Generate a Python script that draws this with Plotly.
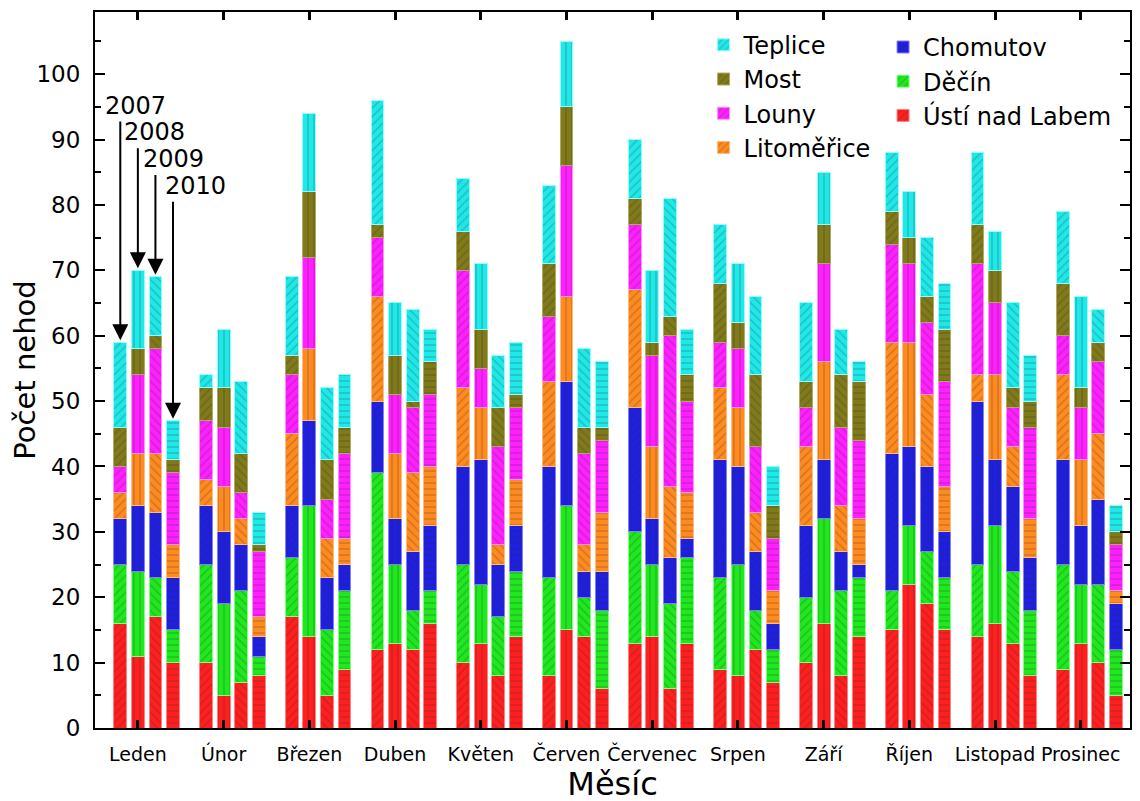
import plotly.graph_objects as go

months = ["Leden", "Únor", "Březen", "Duben", "Květen", "Červen", "Červenec",
          "Srpen", "Září", "Říjen", "Listopad", "Prosinec"]
years = ["2007", "2008", "2009", "2010"]

# values per month: [2007, 2008, 2009, 2010]
usti = [[16, 11, 17, 10], [10, 5, 7, 8], [17, 14, 5, 9], [12, 13, 12, 16],
        [10, 13, 8, 14], [8, 15, 14, 6], [13, 14, 6, 13], [9, 8, 12, 7],
        [10, 16, 8, 14], [15, 22, 19, 15], [14, 16, 13, 8], [9, 13, 10, 5]]
decin = [[9, 13, 6, 5], [15, 14, 14, 3], [9, 20, 10, 12], [27, 12, 6, 5],
         [15, 9, 9, 10], [15, 19, 6, 12], [17, 11, 13, 13], [14, 17, 6, 5],
         [10, 16, 13, 9], [6, 9, 8, 8], [11, 15, 11, 10], [16, 9, 12, 7]]
chomutov = [[7, 10, 10, 8], [9, 11, 7, 3], [8, 13, 8, 4], [11, 7, 9, 10],
            [15, 19, 8, 7], [17, 19, 4, 6], [19, 7, 7, 3], [18, 15, 9, 4],
            [11, 9, 6, 2], [21, 12, 13, 7], [25, 10, 13, 8], [16, 9, 13, 7]]
litomerice = [[4, 8, 9, 5], [4, 7, 4, 3], [11, 11, 6, 4], [16, 10, 12, 9],
              [12, 8, 3, 7], [13, 13, 4, 9], [18, 11, 11, 7], [11, 9, 6, 5],
              [12, 15, 7, 7], [17, 16, 11, 7], [4, 13, 6, 6], [13, 10, 10, 2]]
louny = [[4, 12, 16, 11], [9, 9, 4, 10], [9, 14, 6, 13], [9, 9, 10, 11],
         [18, 6, 15, 11], [10, 20, 14, 11], [10, 14, 23, 14], [7, 9, 10, 8],
         [6, 15, 12, 12], [15, 12, 11, 16], [17, 11, 6, 14], [6, 8, 11, 7]]
most = [[6, 4, 2, 2], [5, 6, 6, 1], [3, 10, 6, 4], [2, 6, 1, 5],
        [6, 6, 6, 2], [8, 9, 4, 2], [4, 2, 3, 4], [9, 4, 11, 5],
        [4, 6, 8, 9], [5, 4, 4, 8], [6, 5, 3, 4], [8, 3, 3, 2]]
teplice = [[13, 12, 9, 6], [2, 9, 11, 5], [12, 12, 11, 8], [19, 8, 14, 5],
           [8, 10, 8, 8], [12, 10, 12, 10], [9, 11, 18, 7], [9, 9, 12, 6],
           [12, 8, 7, 3], [9, 7, 9, 7], [11, 6, 13, 7], [11, 14, 5, 4]]

series = [
    ("Ústí nad Labem", usti, "#ff1f1f", "#ff8080", "legend2"),
    ("Děčín", decin, "#1fe81f", "#80ff80", "legend2"),
    ("Chomutov", chomutov, "#1f1fe0", "#8080ff", "legend2"),
    ("Litoměřice", litomerice, "#ff8a1f", "#ffbb80", "legend"),
    ("Louny", louny, "#ff1fff", "#ff90ff", "legend"),
    ("Most", most, "#807a1a", "#b0aa60", "legend"),
    ("Teplice", teplice, "#1fe8e8", "#90ffff", "legend"),
]

year_offset = [-0.205, 0.0, 0.205, 0.41]
year_pattern = ["/", "|", "\\", "-"]
bar_w = 0.15
FONT = "DejaVu Sans, Arial, sans-serif"

fig = go.Figure()
for name, data, col, edge, leg in series:
    xs, ys, pats = [], [], []
    for mi in range(len(months)):
        for yi in range(len(years)):
            xs.append(mi + year_offset[yi])
            ys.append(data[mi][yi])
            pats.append(year_pattern[yi])
    fig.add_trace(go.Bar(
        x=xs, y=ys, name=name, width=bar_w, legend=leg, legendgroup=name,
        marker=dict(color=col, line=dict(color=edge, width=1),
                    pattern=dict(shape=pats, fgcolor="rgba(40,40,40,0.45)",
                                 size=6, solidity=0.25)),
    ))

arrows = [
    ("2007", -0.41, 95.2, -0.205, 93.0, 59),
    ("2008", -0.19, 91.1, 0.0, 88.9, 70),
    ("2009", 0.035, 87.0, 0.205, 84.8, 69),
    ("2010", 0.29, 82.9, 0.41, 80.7, 47),
]
annotations = []
for txt, tx, ty, axx, tail, head in arrows:
    annotations.append(dict(x=tx, y=ty, xref="x", yref="y", text=txt, showarrow=False,
                            xanchor="left", yanchor="middle",
                            font=dict(size=24, color="black", family=FONT)))
    annotations.append(dict(x=axx, y=head + 0.3, ax=axx, ay=tail, xref="x", yref="y",
                            axref="x", ayref="y", text="", showarrow=True,
                            arrowhead=2, arrowsize=1.6, arrowwidth=2, arrowcolor="black"))

# the page body adds an 8px margin, so margins are shifted to compensate
fig.update_layout(
    width=1140, height=801,
    barmode="stack",
    plot_bgcolor="white", paper_bgcolor="white",
    font=dict(family=FONT, color="black"),
    margin=dict(l=87, r=18, t=2, b=81),
    annotations=annotations,
    legend=dict(x=0.588, y=0.985, xanchor="left", yanchor="top",
                traceorder="reversed", font=dict(size=24), tracegroupgap=1,
                bgcolor="rgba(0,0,0,0)"),
    legend2=dict(x=0.7614, y=0.982, xanchor="left", yanchor="top",
                 traceorder="reversed", font=dict(size=24), tracegroupgap=2,
                 bgcolor="rgba(0,0,0,0)"),
)
fig.update_xaxes(
    range=[-0.50, 11.575], tickvals=list(range(len(months))), ticktext=months,
    ticks="inside", ticklen=8, tickwidth=3, tickcolor="black",
    showline=True, linewidth=2, linecolor="black", mirror="ticks",
    showgrid=False, zeroline=False, tickfont=dict(size=19),
    ticklabelstandoff=8,
    title=dict(text="Měsíc", font=dict(size=32), standoff=0),
)
fig.update_yaxes(
    range=[0, 109.5], tickvals=list(range(0, 101, 10)),
    ticks="inside", ticklen=10, tickwidth=2, tickcolor="black",
    minor=dict(dtick=5, ticks="inside", ticklen=6, tickwidth=2, tickcolor="black"),
    showline=True, linewidth=2, linecolor="black", mirror="ticks",
    showgrid=False, zeroline=False, tickfont=dict(size=23),
    ticklabelstandoff=8,
    title=dict(text="Počet nehod", font=dict(size=29), standoff=4),
)

fig.write_html("out.html")
